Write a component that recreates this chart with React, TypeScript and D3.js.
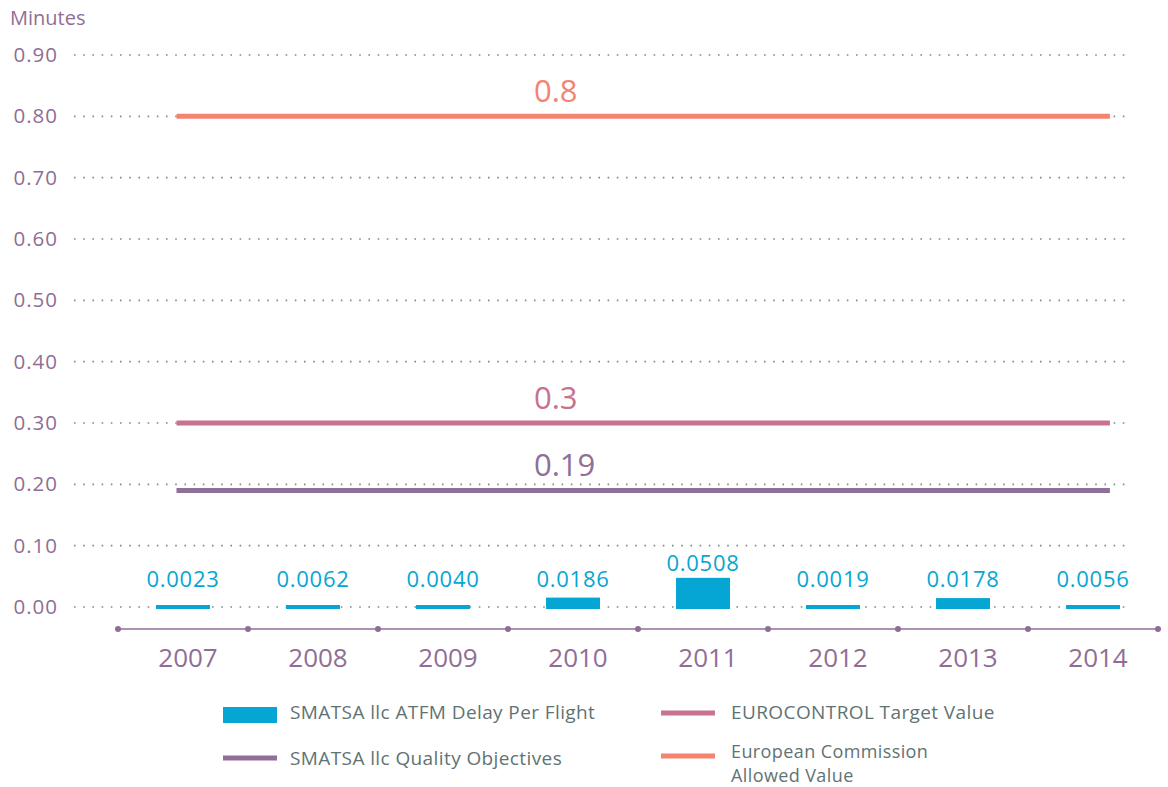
import React from "react";
import * as d3 from "d3";

const years = ["2007", "2008", "2009", "2010", "2011", "2012", "2013", "2014"];
const delayValues = [0.0023, 0.0062, 0.004, 0.0186, 0.0508, 0.0019, 0.0178, 0.0056];
const delayLabels = ["0.0023", "0.0062", "0.0040", "0.0186", "0.0508", "0.0019", "0.0178", "0.0056"];
const yTicks = [0, 0.1, 0.2, 0.3, 0.4, 0.5, 0.6, 0.7, 0.8, 0.9];

const refLines = [
  { name: "European Commission Allowed Value", value: 0.8, label: "0.8", color: "#f4846f" },
  { name: "EUROCONTROL Target Value", value: 0.3, label: "0.3", color: "#c87190" },
  { name: "SMATSA llc Quality Objectives", value: 0.19, label: "0.19", color: "#906f98" },
];

const BLUE = "#05a6d3";
const PURPLE = "#8f6e96";
const LEGEND_TEXT = "#5f7373";
const FONT = "'Open Sans', Lato, sans-serif";

export default function App() {
  const width = 1168;
  const height = 787;

  const y = d3.scaleLinear().domain([0, 0.9]).range([607, 55]);
  const x = d3.scaleBand().domain(years).range([118, 1158]).padding(0);
  const bw = x.bandwidth();
  const barW = bw * 0.415;

  const lineStart = x("2007")! + bw * 0.45;
  const lineEnd = x("2014")! + bw * 0.63;
  const labelX = x("2010")! + bw * 0.2;

  const axisY = 629;
  const dots = [...years.map((yr) => x(yr)!), x("2014")! + bw];

  return (
    <svg width={width} height={height} style={{ position: "absolute", left: 0, top: 0 }} fontFamily={FONT}>
      <text x={10} y={25} fontSize={20} fill={PURPLE}>Minutes</text>

      {yTicks.map((t) => (
        <g key={t}>
          <text x={58} y={y(t) + 7} fontSize={20.5} fill={PURPLE} textAnchor="end" letterSpacing={1}>
            {d3.format(".2f")(t)}
          </text>
          <line
            x1={74}
            x2={1130}
            y1={y(t)}
            y2={y(t)}
            stroke="#7d8b8b"
            strokeWidth={1.6}
            strokeDasharray="1.6,7.6"
          />
        </g>
      ))}

      {refLines.map((r) => (
        <g key={r.name}>
          <line x1={lineStart} x2={lineEnd} y1={y(r.value)} y2={y(r.value)} stroke={r.color} strokeWidth={5} />
          <text x={labelX} y={y(r.value) - 14} fontSize={31} fill={r.color}>
            {r.label}
          </text>
        </g>
      ))}

      {years.map((yr, i) => {
        const h = Math.max(4, y(0) - y(delayValues[i]));
        const base = y(0) + 2;
        const top = base - h;
        const cx = x(yr)! + bw / 2;
        return (
          <g key={yr}>
            <rect x={cx - barW / 2} y={top} width={barW} height={h} fill={BLUE} />
            <text x={cx} y={Math.min(587, top - 7)} fontSize={22} fill={BLUE} textAnchor="middle" letterSpacing={0.7}>
              {delayLabels[i]}
            </text>
          </g>
        );
      })}

      <line x1={dots[0]} x2={dots[dots.length - 1]} y1={axisY} y2={axisY} stroke={PURPLE} strokeWidth={1.5} />
      {dots.map((d, i) => (
        <circle key={i} cx={d} cy={axisY} r={3} fill={PURPLE} />
      ))}
      {years.map((yr) => (
        <text key={yr} x={x(yr)! + bw / 2 + 5} y={667} fontSize={26} fill={PURPLE} textAnchor="middle">
          {yr}
        </text>
      ))}

      <g fontSize={19} fill={LEGEND_TEXT} letterSpacing={0.4}>
        <rect x={223} y={707} width={54} height={16} fill={BLUE} />
        <text x={290} y={719}>SMATSA llc ATFM Delay Per Flight</text>

        <line x1={223} x2={277} y1={758} y2={758} stroke={refLines[2].color} strokeWidth={5} />
        <text x={290} y={765}>SMATSA llc Quality Objectives</text>

        <line x1={661} x2={715} y1={713} y2={713} stroke={refLines[1].color} strokeWidth={5} />
        <text x={731} y={719}>EUROCONTROL Target Value</text>

        <line x1={661} x2={715} y1={756} y2={756} stroke={refLines[0].color} strokeWidth={5} />
        <text x={731} y={758} fontSize={18}>European Commission</text>
        <text x={731} y={782} fontSize={18}>Allowed Value</text>
      </g>
    </svg>
  );
}
